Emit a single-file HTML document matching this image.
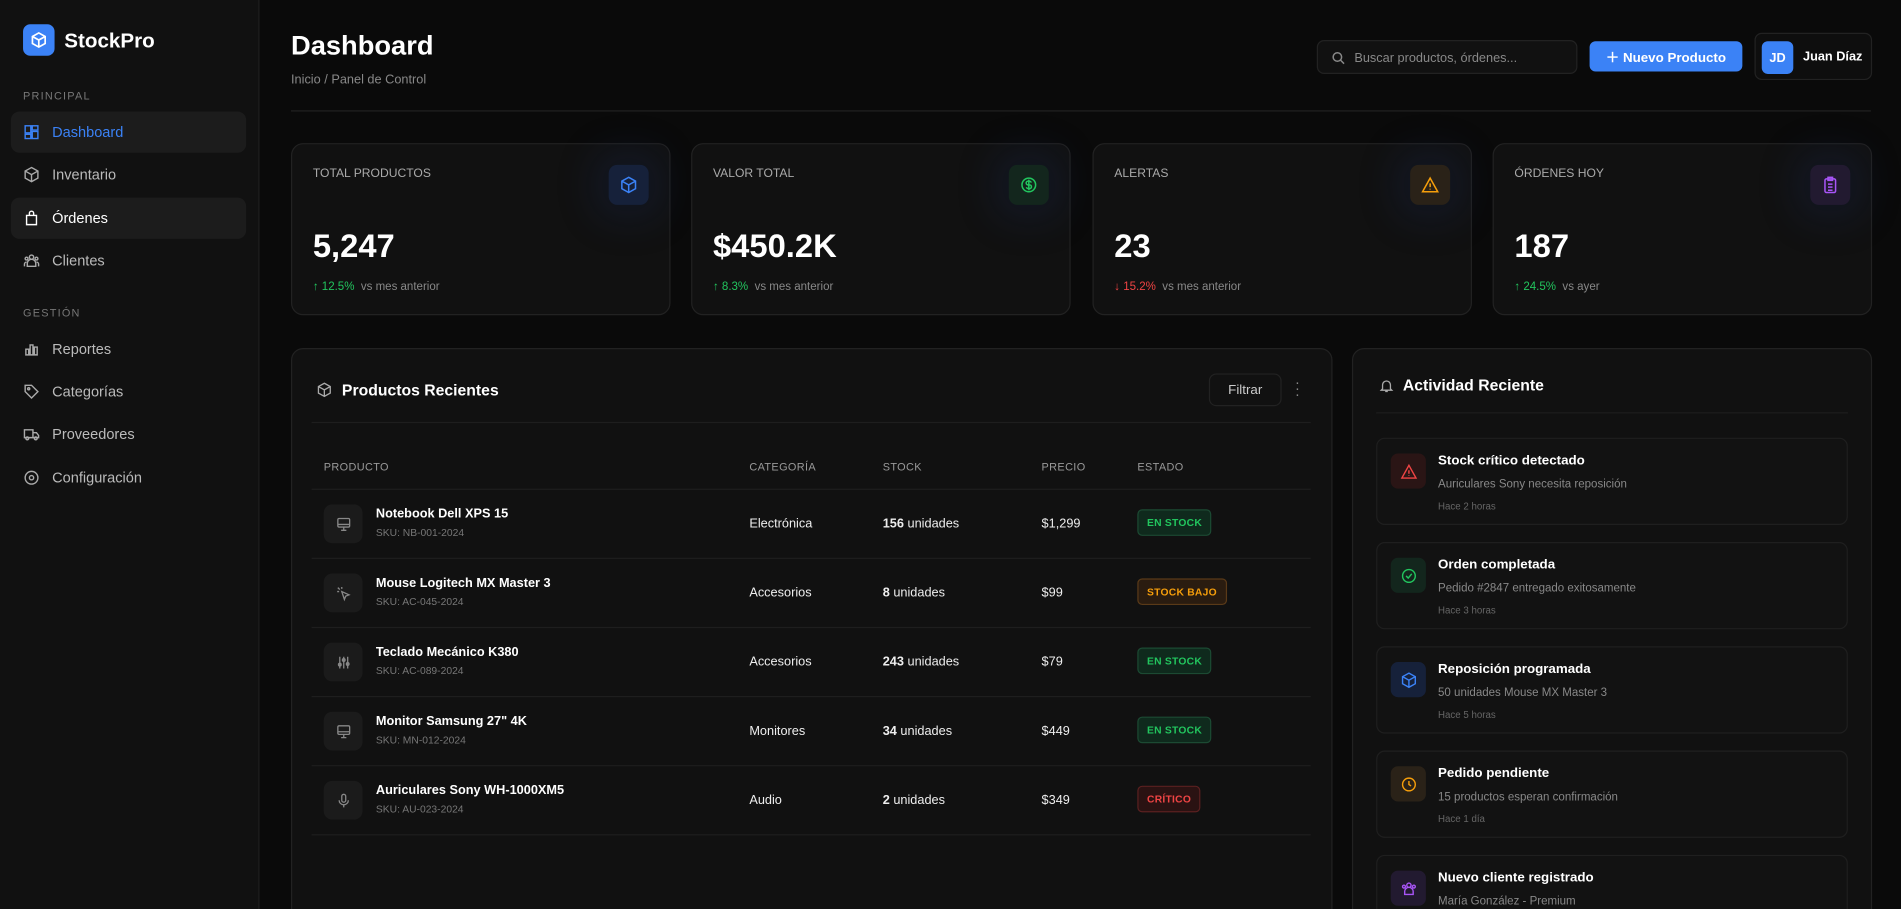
<!DOCTYPE html>
<html><head><meta charset="utf-8">
<style>
*{box-sizing:border-box;margin:0;padding:0}
html,body{width:1901px;height:909px;overflow:hidden;background:#0a0a0a;font-family:"Liberation Sans",sans-serif;color:#fff}
#clip{position:absolute;left:0;top:0;width:1901px;height:909px;overflow:hidden}
#w{position:absolute;left:0;top:0;width:1568px;height:750px;overflow:hidden;transform:scale(1.2125);transform-origin:0 0;background:#0a0a0a}
.a{position:absolute}
.sb{left:0;top:0;width:214px;height:750px;background:#111;border-right:1px solid #1f1f1f}
.sec{font-size:9px;color:#777;letter-spacing:1px;left:19px}
.nav{left:9px;width:194px;height:34px;border-radius:7px;font-size:12px;color:#bbb;display:flex;align-items:center;padding-left:34px}
.nav svg{position:absolute;left:10px;top:10px}
.card{width:313px;height:142px;top:118px;background:#111;border:1px solid #222;border-radius:10px}
.card .l{position:absolute;left:17px;top:19px;font-size:10px;color:#aaa}
.card .v{position:absolute;left:17px;top:69px;font-size:27px;font-weight:bold}
.card .c{position:absolute;left:17px;top:112px;font-size:9.5px;color:#888}
.card .ib{position:absolute;right:17px;top:17px;width:33px;height:33px;border-radius:7px;display:flex;align-items:center;justify-content:center;box-shadow:0 0 30px 14px rgba(30,50,110,.18)}
.g{color:#22c55e}.r{color:#ef4444}
.panel{background:#111;border:1px solid #222;border-radius:10px}
.th{font-size:9px;color:#999;top:380px;letter-spacing:.3px}
.hl{height:1px;background:#1e1e1e}
.pi{left:267px;width:32px;height:32px;border-radius:7px;background:#1b1b1b;display:flex;align-items:center;justify-content:center}
.pn{left:310px;font-size:10.5px;font-weight:bold}
.sk{left:310px;font-size:8.5px;color:#777}
.td{font-size:10.5px;color:#eee}
.bd{left:938px;height:22px;border-radius:4px;font-size:8.5px;font-weight:bold;display:flex;align-items:center;padding:0 7px;letter-spacing:.2px}
.ok{background:#0f2a1d;border:1px solid #1c4a33;color:#22c55e}
.act{left:1135px;width:389px;height:72px;border:1px solid #1f1f1f;border-radius:7px;background:#121212}
.act .ic{position:absolute;left:11px;top:12px;width:29px;height:29px;border-radius:6px;display:flex;align-items:center;justify-content:center}
.act .t{position:absolute;left:50px;top:12px;font-size:11px;font-weight:bold}
.act .d{position:absolute;left:50px;top:32px;font-size:9.5px;color:#888}
.act .h{position:absolute;left:50px;top:51px;font-size:8px;color:#666}
</style></head><body><div id="clip"><div id="w">
<div class="a sb"></div>
<div class="a" style="left:19px;top:20px;width:26px;height:26px;border-radius:6px;background:#3b82f6;display:flex;align-items:center;justify-content:center"><svg width="14" height="14" viewBox="0 0 24 24" fill="none" stroke="#fff" stroke-width="2.4"><path d="M12 2l9 5v10l-9 5-9-5V7z M3 7l9 5 9-5 M12 12v10"/></svg></div>
<div class="a" style="left:53px;top:24px;font-size:17px;font-weight:bold">StockPro</div>
<div class="a sec" style="top:74px">PRINCIPAL</div>
<div class="a nav" style="top:92px;background:#1c1c1c;color:#3b82f6"><svg width="14" height="14" viewBox="0 0 24 24" fill="none" stroke="#3b82f6" stroke-width="2"><rect x="3" y="3" width="8" height="10"/><rect x="13" y="3" width="8" height="6"/><rect x="13" y="11" width="8" height="10"/><rect x="3" y="15" width="8" height="6"/></svg>Dashboard</div>
<div class="a nav" style="top:127px"><svg width="14" height="14" viewBox="0 0 24 24" fill="none" stroke="#aaa" stroke-width="2"><path d="M12 2l9 5v10l-9 5-9-5V7z M3 7l9 5 9-5 M12 12v10"/></svg>Inventario</div>
<div class="a nav" style="top:163px;background:#1c1c1c;color:#fff"><svg width="14" height="14" viewBox="0 0 24 24" fill="none" stroke="#fff" stroke-width="2"><path d="M5 8h14v13H5z M9 8V5a3 3 0 016 0v3"/></svg>Órdenes</div>
<div class="a nav" style="top:198px"><svg width="14" height="14" viewBox="0 0 24 24" fill="none" stroke="#aaa" stroke-width="2"><circle cx="12" cy="7" r="3"/><circle cx="5" cy="9" r="2"/><circle cx="19" cy="9" r="2"/><path d="M6 20v-4a6 6 0 0112 0v4z M2 20v-3a3 3 0 013-3 M22 20v-3a3 3 0 00-3-3"/></svg>Clientes</div>
<div class="a sec" style="top:253px">GESTIÓN</div>
<div class="a nav" style="top:271px"><svg width="14" height="14" viewBox="0 0 24 24" fill="none" stroke="#aaa" stroke-width="2"><path d="M4 20V12h4v8 M10 20V6h4v14 M16 20V9h4v11 M3 20h18"/></svg>Reportes</div>
<div class="a nav" style="top:306px"><svg width="14" height="14" viewBox="0 0 24 24" fill="none" stroke="#aaa" stroke-width="2"><path d="M3 3h9l9 9-9 9-9-9z"/><circle cx="8" cy="8" r="1.5"/></svg>Categorías</div>
<div class="a nav" style="top:341px"><svg width="14" height="14" viewBox="0 0 24 24" fill="none" stroke="#aaa" stroke-width="2"><path d="M2 6h12v11H2z M14 10h5l3 4v3h-8"/><circle cx="6" cy="18" r="2"/><circle cx="18" cy="18" r="2"/></svg>Proveedores</div>
<div class="a nav" style="top:377px"><svg width="14" height="14" viewBox="0 0 24 24" fill="none" stroke="#aaa" stroke-width="2"><circle cx="12" cy="12" r="3"/><circle cx="12" cy="12" r="9"/></svg>Configuración</div>

<div class="a" style="left:240px;top:25px;font-size:22.5px;font-weight:bold">Dashboard</div>
<div class="a" style="left:240px;top:60px;font-size:10.5px;color:#888">Inicio / Panel de Control</div>
<div class="a hl" style="left:240px;top:91px;width:1303px;background:#222"></div>
<div class="a" style="left:1086px;top:33px;width:215px;height:28px;border:1px solid #222;border-radius:6px;background:#111;font-size:10.5px;color:#888;padding:8px 0 0 30px"><svg class="a" style="left:11px;top:8px" width="12" height="12" viewBox="0 0 24 24" fill="none" stroke="#888" stroke-width="2.5"><circle cx="10" cy="10" r="7"/><path d="M15 15l6 6"/></svg>Buscar productos, órdenes...</div>
<div class="a" style="left:1311px;top:34px;width:126px;height:25px;border-radius:5px;background:#3b82f6;font-size:11px;font-weight:bold;display:flex;align-items:center;justify-content:center">＋ Nuevo Producto</div>
<div class="a" style="left:1447px;top:27px;width:97px;height:39px;border:1px solid #222;border-radius:6px;background:#0e0e0e"></div>
<div class="a" style="left:1453px;top:34px;width:26px;height:27px;border-radius:5px;background:#3b82f6;font-size:10.5px;font-weight:bold;display:flex;align-items:center;justify-content:center">JD</div>
<div class="a" style="left:1487px;top:41px;font-size:10.5px;font-weight:bold">Juan Díaz</div>

<div class="a card" style="left:240px"><div class="l">TOTAL PRODUCTOS</div><div class="ib" style="background:#16213a"><svg width="15" height="15" viewBox="0 0 24 24" fill="none" stroke="#3b82f6" stroke-width="2"><path d="M12 2l9 5v10l-9 5-9-5V7z M3 7l9 5 9-5 M12 12v10"/></svg></div><div class="v">5,247</div><div class="c"><span class="g">↑ 12.5%</span>&nbsp; vs mes anterior</div></div>
<div class="a card" style="left:570px"><div class="l">VALOR TOTAL</div><div class="ib" style="background:#13261d"><svg width="15" height="15" viewBox="0 0 24 24" fill="none" stroke="#22c55e" stroke-width="2"><circle cx="12" cy="12" r="9"/><path d="M15 9a3 2 0 00-3-2h-1a2 2 0 000 5h2a2 2 0 010 5h-1a3 2 0 01-3-2 M12 5v14"/></svg></div><div class="v">$450.2K</div><div class="c"><span class="g">↑ 8.3%</span>&nbsp; vs mes anterior</div></div>
<div class="a card" style="left:901px"><div class="l">ALERTAS</div><div class="ib" style="background:#2a2218"><svg width="15" height="15" viewBox="0 0 24 24" fill="none" stroke="#f59e0b" stroke-width="2"><path d="M12 3l10 18H2z M12 10v5 M12 17v1"/></svg></div><div class="v">23</div><div class="c"><span class="r">↓ 15.2%</span>&nbsp; vs mes anterior</div></div>
<div class="a card" style="left:1231px"><div class="l">ÓRDENES HOY</div><div class="ib" style="background:#221a30"><svg width="15" height="15" viewBox="0 0 24 24" fill="none" stroke="#a855f7" stroke-width="2"><rect x="5" y="4" width="14" height="18" rx="2"/><rect x="9" y="2" width="6" height="4"/><path d="M9 11h6 M9 15h6 M9 19h6"/></svg></div><div class="v">187</div><div class="c"><span class="g">↑ 24.5%</span>&nbsp; vs ayer</div></div>

<div class="a panel" style="left:240px;top:287px;width:859px;height:480px"></div>
<svg class="a" style="left:261px;top:315px" width="13" height="13" viewBox="0 0 24 24" fill="none" stroke="#aaa" stroke-width="2"><path d="M12 2l9 5v10l-9 5-9-5V7z M3 7l9 5 9-5 M12 12v10"/></svg>
<div class="a" style="left:282px;top:314px;font-size:13px;font-weight:bold">Productos Recientes</div>
<div class="a" style="left:997px;top:308px;width:60px;height:27px;border:1px solid #222;border-radius:6px;font-size:11px;color:#ccc;display:flex;align-items:center;justify-content:center">Filtrar</div>
<div class="a" style="left:1068px;top:313px;font-size:12px;color:#888;line-height:5px">·<br>·<br>·</div>
<div class="a hl" style="left:257px;top:348px;width:824px"></div>
<div class="a th" style="left:267px">PRODUCTO</div><div class="a th" style="left:618px">CATEGORÍA</div><div class="a th" style="left:728px">STOCK</div><div class="a th" style="left:859px">PRECIO</div><div class="a th" style="left:938px">ESTADO</div>
<div class="a hl" style="left:257px;top:403px;width:824px"></div>

<div class="a pi" style="top:416px"><svg width="13" height="13" viewBox="0 0 24 24" fill="none" stroke="#888" stroke-width="2"><rect x="3" y="3" width="18" height="13" rx="2"/><path d="M3 12h18 M12 16v4 M8 21h8"/></svg></div>
<div class="a pn" style="top:418px">Notebook Dell XPS 15</div><div class="a sk" style="top:434px">SKU: NB-001-2024</div>
<div class="a td" style="left:618px;top:426px">Electrónica</div><div class="a td" style="left:728px;top:426px"><b>156</b> unidades</div><div class="a td" style="left:859px;top:426px">$1,299</div>
<div class="a bd ok" style="top:420px">EN STOCK</div>
<div class="a hl" style="left:257px;top:460px;width:824px"></div>

<div class="a pi" style="top:473px"><svg width="13" height="13" viewBox="0 0 24 24" fill="none" stroke="#888" stroke-width="2"><path d="M9 9l4 12 2-5 5-2z M3 3l3 3 M9 2v3 M2 9h3"/></svg></div>
<div class="a pn" style="top:475px">Mouse Logitech MX Master 3</div><div class="a sk" style="top:491px">SKU: AC-045-2024</div>
<div class="a td" style="left:618px;top:483px">Accesorios</div><div class="a td" style="left:728px;top:483px"><b>8</b> unidades</div><div class="a td" style="left:859px;top:483px">$99</div>
<div class="a bd" style="top:477px;background:#2a1c10;border:1px solid #5a3a18;color:#f59e0b">STOCK BAJO</div>
<div class="a hl" style="left:257px;top:517px;width:824px"></div>

<div class="a pi" style="top:530px"><svg width="13" height="13" viewBox="0 0 24 24" fill="none" stroke="#888" stroke-width="2"><path d="M6 3v18 M12 3v18 M18 3v18"/><circle cx="6" cy="15" r="2"/><circle cx="12" cy="8" r="2"/><circle cx="18" cy="14" r="2"/></svg></div>
<div class="a pn" style="top:532px">Teclado Mecánico K380</div><div class="a sk" style="top:548px">SKU: AC-089-2024</div>
<div class="a td" style="left:618px;top:540px">Accesorios</div><div class="a td" style="left:728px;top:540px"><b>243</b> unidades</div><div class="a td" style="left:859px;top:540px">$79</div>
<div class="a bd ok" style="top:534px">EN STOCK</div>
<div class="a hl" style="left:257px;top:574px;width:824px"></div>

<div class="a pi" style="top:587px"><svg width="13" height="13" viewBox="0 0 24 24" fill="none" stroke="#888" stroke-width="2"><rect x="3" y="3" width="18" height="13" rx="2"/><path d="M3 12h18 M12 16v4 M8 21h8"/></svg></div>
<div class="a pn" style="top:589px">Monitor Samsung 27" 4K</div><div class="a sk" style="top:605px">SKU: MN-012-2024</div>
<div class="a td" style="left:618px;top:597px">Monitores</div><div class="a td" style="left:728px;top:597px"><b>34</b> unidades</div><div class="a td" style="left:859px;top:597px">$449</div>
<div class="a bd ok" style="top:591px">EN STOCK</div>
<div class="a hl" style="left:257px;top:631px;width:824px"></div>

<div class="a pi" style="top:644px"><svg width="13" height="13" viewBox="0 0 24 24" fill="none" stroke="#888" stroke-width="2"><rect x="9" y="2" width="6" height="12" rx="3"/><path d="M5 11a7 7 0 0014 0 M12 18v4"/></svg></div>
<div class="a pn" style="top:646px">Auriculares Sony WH-1000XM5</div><div class="a sk" style="top:662px">SKU: AU-023-2024</div>
<div class="a td" style="left:618px;top:654px">Audio</div><div class="a td" style="left:728px;top:654px"><b>2</b> unidades</div><div class="a td" style="left:859px;top:654px">$349</div>
<div class="a bd" style="top:648px;background:#2a1212;border:1px solid #5a2020;color:#ef4444">CRÍTICO</div>
<div class="a hl" style="left:257px;top:688px;width:824px"></div>

<div class="a panel" style="left:1115px;top:287px;width:429px;height:480px"></div>
<svg class="a" style="left:1137px;top:311px" width="13" height="14" viewBox="0 0 24 24" fill="none" stroke="#aaa" stroke-width="2"><path d="M6 17V11a6 6 0 0112 0v6l2 2H4z M10 21h4"/></svg>
<div class="a" style="left:1157px;top:310px;font-size:13px;font-weight:bold">Actividad Reciente</div>
<div class="a hl" style="left:1135px;top:340px;width:389px"></div>

<div class="a act" style="top:361px"><div class="ic" style="background:#2a1515"><svg width="14" height="14" viewBox="0 0 24 24" fill="none" stroke="#ef4444" stroke-width="2"><path d="M12 3l10 18H2z M12 10v5 M12 17v1"/></svg></div><div class="t">Stock crítico detectado</div><div class="d">Auriculares Sony necesita reposición</div><div class="h">Hace 2 horas</div></div>
<div class="a act" style="top:447px"><div class="ic" style="background:#13261d"><svg width="14" height="14" viewBox="0 0 24 24" fill="none" stroke="#22c55e" stroke-width="2"><circle cx="12" cy="12" r="9"/><path d="M8 12l3 3 5-6"/></svg></div><div class="t">Orden completada</div><div class="d">Pedido #2847 entregado exitosamente</div><div class="h">Hace 3 horas</div></div>
<div class="a act" style="top:533px"><div class="ic" style="background:#16213a"><svg width="14" height="14" viewBox="0 0 24 24" fill="none" stroke="#3b82f6" stroke-width="2"><path d="M12 2l9 5v10l-9 5-9-5V7z M3 7l9 5 9-5 M12 12v10"/></svg></div><div class="t">Reposición programada</div><div class="d">50 unidades Mouse MX Master 3</div><div class="h">Hace 5 horas</div></div>
<div class="a act" style="top:619px"><div class="ic" style="background:#2a2218"><svg width="14" height="14" viewBox="0 0 24 24" fill="none" stroke="#f59e0b" stroke-width="2"><circle cx="12" cy="12" r="9"/><path d="M12 7v5l3 2"/></svg></div><div class="t">Pedido pendiente</div><div class="d">15 productos esperan confirmación</div><div class="h">Hace 1 día</div></div>
<div class="a act" style="top:705px;height:80px"><div class="ic" style="background:#221a30"><svg width="14" height="14" viewBox="0 0 24 24" fill="none" stroke="#a855f7" stroke-width="2"><circle cx="12" cy="7" r="3"/><circle cx="5" cy="9" r="2"/><circle cx="19" cy="9" r="2"/><path d="M6 20v-4a6 6 0 0112 0v4z"/></svg></div><div class="t">Nuevo cliente registrado</div><div class="d">María González - Premium</div></div>
</div></div></body></html>
